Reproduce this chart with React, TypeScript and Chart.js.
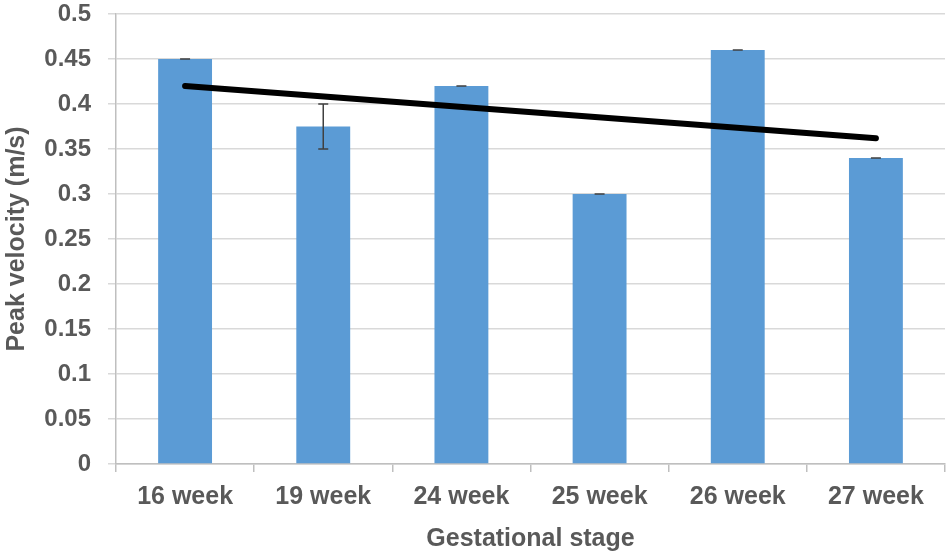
import { useEffect, useRef } from "react"
import { Chart, registerables } from "chart.js"

Chart.register(...registerables)

const stages = ["16 week", "19 week", "24 week", "25 week", "26 week", "27 week"]
const peakVelocity = [0.45, 0.375, 0.42, 0.3, 0.46, 0.34]
const errors = [0, 0.025, 0, 0, 0, 0]
// linear trend, only the two ends are drawn
const trend = [0.42, null, null, null, null, 0.362]

const textColor = "#595959"
const fontFamily = "'Liberation Sans', Arial, sans-serif"

const errorBars = {
  id: "errorBars",
  afterDatasetsDraw(chart: any) {
    const meta = chart.getDatasetMeta(1)
    const y = chart.scales.y
    const ctx = chart.ctx
    ctx.save()
    ctx.strokeStyle = "#404040"
    ctx.lineWidth = 1.5
    meta.data.forEach((bar: any, i: number) => {
      const top = y.getPixelForValue(peakVelocity[i] + errors[i])
      const bottom = y.getPixelForValue(peakVelocity[i] - errors[i])
      const x = bar.x
      ctx.beginPath()
      ctx.moveTo(x, top)
      ctx.lineTo(x, bottom)
      ctx.moveTo(x - 5, top)
      ctx.lineTo(x + 5, top)
      ctx.moveTo(x - 5, bottom)
      ctx.lineTo(x + 5, bottom)
      ctx.stroke()
    })
    ctx.restore()
  },
}

export default function App() {
  const chartRef = useRef<HTMLCanvasElement>(null)
  const chartInstance = useRef<Chart | null>(null)

  useEffect(() => {
    document.body.style.margin = "0"
    if (!chartRef.current) return
    if (chartInstance.current) chartInstance.current.destroy()

    chartInstance.current = new Chart(chartRef.current, {
      type: "bar",
      data: {
        labels: stages,
        datasets: [
          {
            type: "line",
            label: "Trend",
            data: trend,
            borderColor: "#000000",
            borderWidth: 6,
            borderCapStyle: "round",
            pointRadius: 0,
            spanGaps: true,
            order: 0,
          } as any,
          {
            label: "Peak velocity",
            data: peakVelocity,
            backgroundColor: "#5B9BD5",
            categoryPercentage: 1,
            barPercentage: 0.39,
            order: 1,
          },
        ],
      },
      options: {
        responsive: true,
        maintainAspectRatio: false,
        animation: false,
        layout: { padding: { top: 14, right: 5, left: 0, bottom: 0 } },
        plugins: {
          legend: { display: false },
          tooltip: { enabled: false },
        },
        scales: {
          x: {
            offset: true,
            grid: {
              offset: true,
              drawOnChartArea: false,
              drawTicks: true,
              tickLength: 8,
              color: "#bfbfbf",
              lineWidth: 1.5,
            },
            border: { color: "#bfbfbf", width: 1.5 },
            ticks: {
              color: textColor,
              padding: 10,
              font: { family: fontFamily, size: 25, weight: "bold" },
            },
            title: {
              display: true,
              text: "Gestational stage",
              color: textColor,
              padding: { top: 0, bottom: 1 },
              font: { family: fontFamily, size: 25, weight: "bold" },
            },
            afterFit(scale: any) {
              scale.height = 91
            },
          },
          y: {
            min: 0,
            max: 0.5,
            grid: {
              color: "#d9d9d9",
              lineWidth: 1.5,
              tickLength: 8,
            },
            border: { color: "#bfbfbf", width: 1.5 },
            ticks: {
              stepSize: 0.05,
              color: textColor,
              padding: 17,
              font: { family: fontFamily, size: 24, weight: "bold" },
              callback: (v: any) => Number(Number(v).toFixed(2)).toString(),
            },
            title: {
              display: true,
              text: "Peak velocity (m/s)",
              color: textColor,
              padding: { top: 2, bottom: 0 },
              font: { family: fontFamily, size: 25, weight: "bold" },
            },
            afterFit(scale: any) {
              scale.width = 116
              scale.paddingTop = 0
              scale.paddingBottom = 0
            },
          },
        },
      },
      plugins: [errorBars],
    })

    return () => {
      if (chartInstance.current) {
        chartInstance.current.destroy()
        chartInstance.current = null
      }
    }
  }, [])

  return (
    <div style={{ width: 950, height: 555, position: "relative", background: "#fff" }}>
      <canvas ref={chartRef}></canvas>
    </div>
  )
}
